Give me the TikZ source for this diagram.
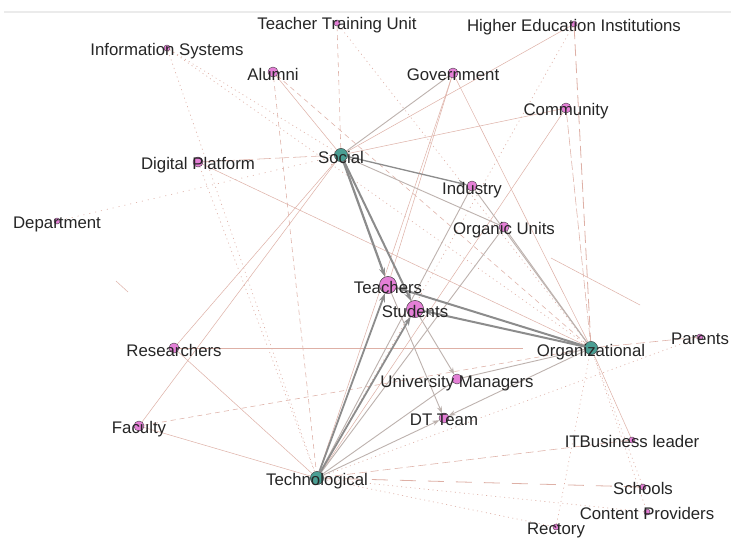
\documentclass[tikz,border=0pt]{standalone}
\usepackage{fontspec}
\setmainfont{Liberation Sans}
\usetikzlibrary{arrows.meta}
\definecolor{rose}{HTML}{DEB0A6}
\definecolor{pinkn}{HTML}{E47FD6}
\definecolor{tealn}{HTML}{4A9E93}
\definecolor{grayar}{HTML}{8C8C8C}
\definecolor{grayln}{HTML}{BDB2AE}
\definecolor{framec}{HTML}{EBEBEB}
\tikzset{
  sdot/.style={circle,draw=black!70,line width=0.3pt,fill=pinkn,minimum size=6pt,inner sep=0pt},
  mdot/.style={circle,draw=black!70,line width=0.3pt,fill=pinkn,minimum size=10pt,inner sep=0pt},
  bdot/.style={circle,draw=black!70,line width=0.4pt,fill=pinkn,minimum size=17pt,inner sep=0pt},
  tdot/.style={circle,draw=black!70,line width=0.4pt,fill=tealn,minimum size=13pt,inner sep=0pt},
  lab/.style={font=\fontsize{16.8}{18}\selectfont,text=black!85,inner sep=0pt,anchor=center},
  ar/.style={draw=grayar,-{Stealth[length=9pt,width=6pt]}},
  gl/.style={draw=grayln,line width=0.9pt},
  gla/.style={draw=grayln,line width=0.9pt,-{Stealth[length=7pt,width=5pt]}},
  re/.style={draw=rose,line width=0.5pt},
  red/.style={draw=rose,line width=0.55pt,dash pattern=on 5pt off 4pt},
  relong/.style={draw=rose,line width=0.8pt,dash pattern=on 16pt off 12pt},
  redot/.style={draw=rose,line width=0.65pt,dash pattern=on 1pt off 3.5pt},
}
\begin{document}
\begin{tikzpicture}[x=1pt,y=-1pt]
\useasboundingbox (0,0) rectangle (731,539);
\fill[white] (0,0) rectangle (731,539);
\draw[framec,line width=1.5pt] (4,12) -- (731,12);
% dots
\node[sdot] (ttu) at (337,23) {};
\node[sdot] (hei) at (574,24) {};
\node[sdot] (infs) at (167,48) {};
\node[mdot] (alum) at (273,72) {};
\node[mdot] (gov) at (453,73) {};
\node[mdot] (comm) at (566,108) {};
\node[tdot] (soc) at (341,155) {};
\node[mdot] (digi) at (198,162) {};
\node[mdot] (ind) at (472,186) {};
\node[mdot] (orgu) at (504,227) {};
\node[sdot] (dept) at (57,221) {};
\node[bdot] (teach) at (388,285) {};
\node[bdot] (stud) at (415,309) {};
\node[tdot] (org) at (591,348) {};
\node[sdot] (par) at (700,337) {};
\node[mdot] (res) at (174,348) {};
\node[mdot] (um) at (457,379) {};
\node[mdot] (dt) at (444,418) {};
\node[mdot] (fac) at (139,426) {};
\node[sdot] (itb) at (632,440) {};
\node[tdot] (tech) at (317,478) {};
\node[sdot] (sch) at (643,487) {};
\node[sdot] (cp) at (647,512) {};
\node[sdot] (rec) at (556,527) {};
\coordinate (resend) at (523,348);
\coordinate (s1a) at (116,281);
\coordinate (s1b) at (128,292);
\coordinate (s2a) at (551,258);
\coordinate (s2b) at (640,305);
% rose edges
\path[red] (ttu) -- (soc);
\path[redot] (ttu) -- (org);
\path[draw=rose,line width=0.8pt,dash pattern=on 12pt off 5pt] (hei) -- (org);
\path[re] (hei) -- (soc);
\path[redot] (hei) -- (tech);
\path[redot] (infs) -- (soc);
\path[redot] (infs) -- (tech);
\path[redot] (infs) -- (org);
\path[re] (alum) -- (soc);
\path[red] (alum) -- (tech);
\path[red] (alum) -- (org);
\path[re] (comm) -- (soc);
\path[red,dash pattern=on 9pt off 3pt] (comm) -- (org);
\path[re] (comm) -- (tech);
\path[red,dash pattern=on 14pt off 4pt] (digi) -- (soc);
\path[redot] (digi) -- (tech);
\path[re] (digi) -- (org);
\path[redot,dash pattern=on 1pt off 5pt] (dept) -- (soc);
\path[re] (res) -- (soc);
\path[re,line width=0.8pt] (res) -- (resend);
\path[re] (res) -- (tech);
\path[re] (fac) -- (soc);
\path[re] (fac) -- (tech);
\path[red] (fac) -- (org);
\path[red,dash pattern=on 9pt off 4pt] (par) -- (org);
\path[redot] (par) -- (tech);
\path[re] (itb) -- (org);
\path[red,dash pattern=on 8pt off 4pt] (itb) -- (tech);
\path[redot] (sch) -- (org);
\path[relong] (sch) -- (tech);
\path[redot] (cp) -- (org);
\path[redot] (cp) -- (tech);
\path[redot] (rec) -- (org);
\path[redot] (rec) -- (tech);
\path[re] (gov) -- (org);
\path[re] (gov) -- (teach);
\path[re] (gov) -- (tech);
\path[re] (s1a) -- (s1b);
\path[re] (s2a) -- (s2b);
% gray edges
\path[gl] (soc) -- (gov);
\path[gl] (soc) -- (orgu);
\path[gl] (org) -- (ind);
\path[gl] (org) -- (orgu);
\path[gl] (org) -- (um);
\path[gl] (tech) -- (um);
\path[gl] (tech) -- (orgu);
\path[gl] (tech) -- (ind);
\path[gla] (org) -- (dt);
\path[gla] (tech) -- (dt);
\path[gla] (stud) -- (um);
\path[gla] (teach) -- (dt);
\path[ar,line width=1.3pt] (soc) -- (ind);
\path[ar,line width=2.2pt] (soc) -- (teach);
\path[ar,line width=2pt] (soc) -- (stud);
\path[ar,line width=2pt] (org) -- (teach);
\path[ar,line width=2pt] (org) -- (stud);
\path[ar,line width=1.8pt] (tech) -- (teach);
\path[ar,line width=1.8pt] (tech) -- (stud);
% redraw dots on top of the edges
\foreach \n/\s in {ttu/sdot,hei/sdot,infs/sdot,alum/mdot,gov/mdot,comm/mdot,soc/tdot,digi/mdot,ind/mdot,orgu/mdot,dept/sdot,teach/bdot,stud/bdot,org/tdot,par/sdot,res/mdot,um/mdot,dt/mdot,fac/mdot,itb/sdot,tech/tdot,sch/sdot,cp/sdot,rec/sdot}
  \node[\s] at (\n.center) {};
% labels
\node[lab] (lttu) at ([yshift=-2pt]ttu) {Teacher Training Unit};
\node[lab] (lhei) at ([yshift=-3pt]hei) {Higher Education Institutions};
\node[lab] (linfs) at ([yshift=-3pt]infs) {Information Systems};
\node[lab] (lalum) at ([yshift=-2pt]alum) {Alumni};
\node[lab] (lgov) at ([yshift=-2pt]gov) {Government};
\node[lab] (lcomm) at ([yshift=-3pt]comm) {Community};
\node[lab] (lsoc) at ([yshift=-2pt]soc) {Social};
\node[lab] (ldigi) at ([yshift=-3pt]digi) {Digital Platform};
\node[lab] (lind) at ([yshift=-4pt]ind) {Industry};
\node[lab] (lorgu) at ([yshift=-3pt]orgu) {Organic Units};
\node[lab] (ldept) at ([yshift=-3pt]dept) {Department};
\node[lab] (lteach) at ([yshift=-2pt]teach) {Teachers};
\node[lab] (lstud) at ([yshift=-2pt]stud) {Students};
\node[lab] (lorg) at ([yshift=-4pt]org) {Organizational};
\node[lab] (lpar) at ([yshift=-2pt]par) {Parents};
\node[lab] (lres) at ([yshift=-2pt]res) {Researchers};
\node[lab] (lum) at ([yshift=-4pt]um) {University Managers};
\node[lab] (ldt) at ([yshift=-2pt]dt) {DT Team};
\node[lab] (lfac) at ([yshift=-3pt]fac) {Faculty};
\node[lab] (litb) at ([yshift=-1pt]itb) {ITBusiness leader};
\node[lab] (ltech) at ([yshift=-3pt]tech) {Technological};
\node[lab] (lsch) at ([yshift=-1pt]sch) {Schools};
\node[lab] (lcp) at ([yshift=-1pt]cp) {Content Providers};
\node[lab] (lrec) at ([yshift=-3pt]rec) {Rectory};
\end{tikzpicture}
\end{document}
